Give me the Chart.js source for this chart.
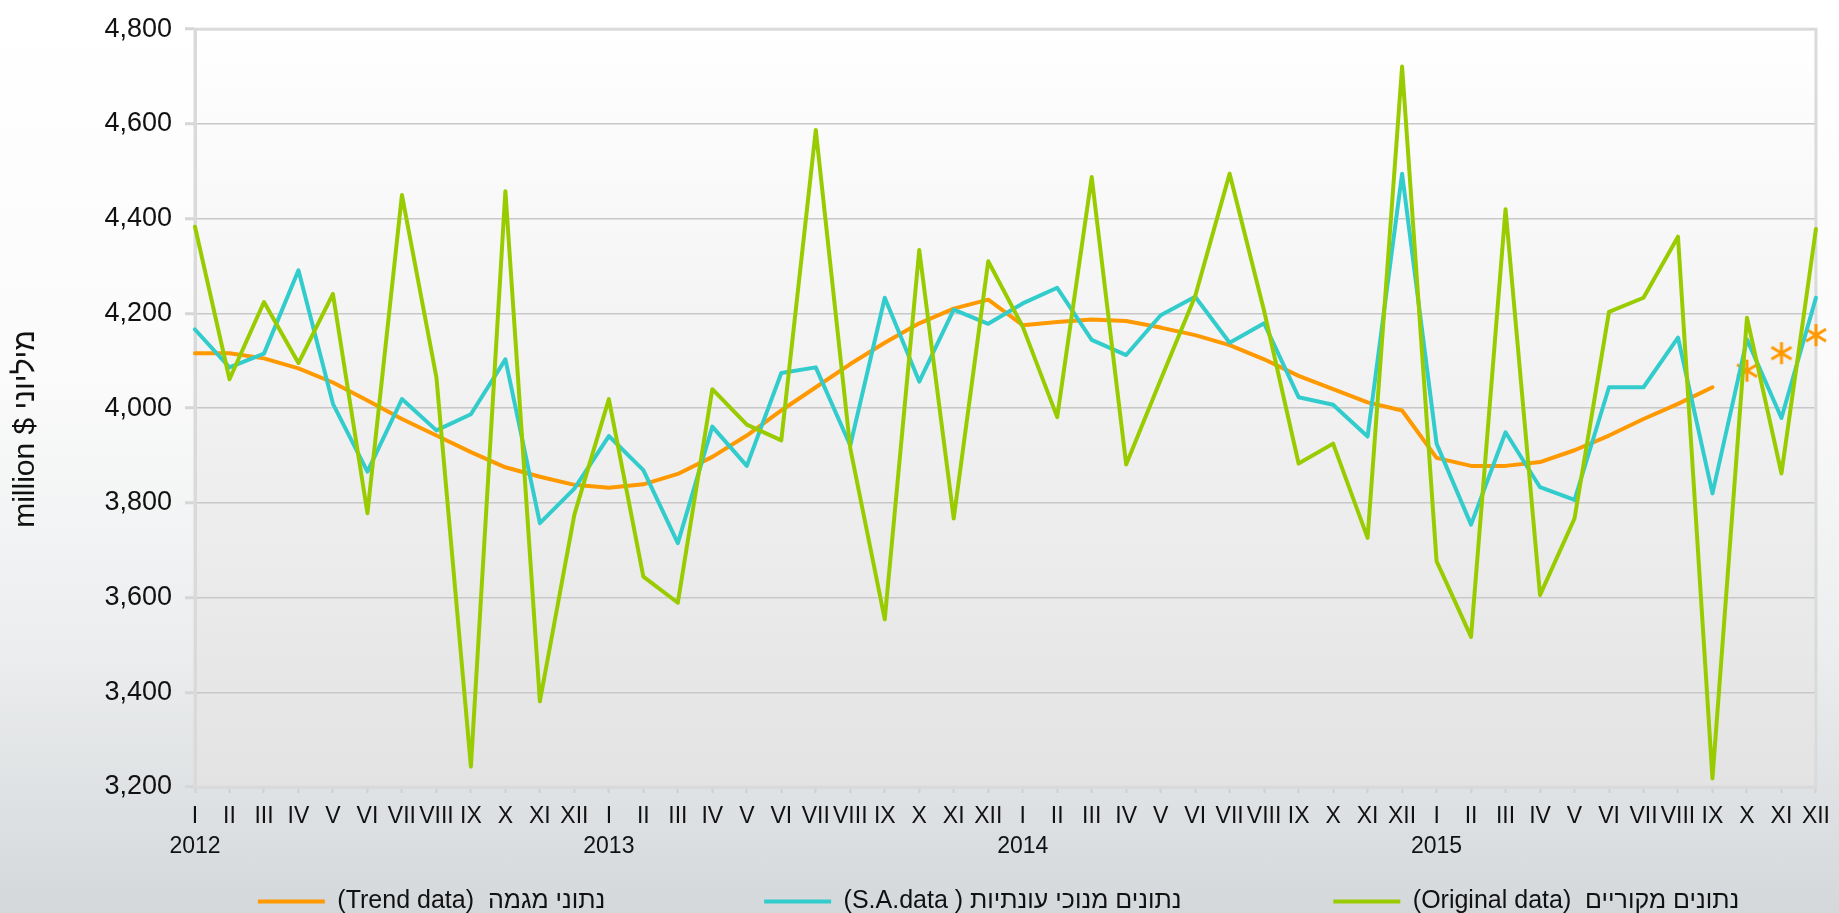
<!DOCTYPE html>
<html>
<head>
<meta charset="utf-8">
<script src="https://cdn.jsdelivr.net/npm/chart.js@4.4.0/dist/chart.umd.min.js"></script>
<style>
  html, body { margin: 0; padding: 0; }
  body {
    width: 1839px; height: 913px; overflow: hidden;
    background: linear-gradient(180deg, #ffffff 0%, #fbfbfb 40%, #eceeef 70%, #d5d8db 100%);
  }
  #wrap { position: relative; width: 1839px; height: 913px; }
</style>
</head>
<body>
<div id="wrap"><canvas id="exports-chart"></canvas></div>
<script>
const years = ['2012', '2013', '2014', '2015'];
const months = ['I', 'II', 'III', 'IV', 'V', 'VI', 'VII', 'VIII', 'IX', 'X', 'XI', 'XII'];
const yTicks = [3200, 3400, 3600, 3800, 4000, 4200, 4400, 4600, 4800];

// original data, Jan 2012 - Dec 2015
const originalData = [
  4383, 4061, 4224, 4095, 4241, 3778, 4450, 4065, 3243, 4458, 3381, 3775,
  4019, 3644, 3589, 4040, 3965, 3932, 4587, 3915, 3554, 4334, 3767, 4310,
  4172, 3981, 4488, 3881, 4060, 4236, 4495, 4205, 3883, 3925, 3726, 4721,
  3677, 3517, 4420, 3605, 3767, 4203, 4233, 4362, 3218, 4191, 3862, 4378
];
// seasonally adjusted
const saData = [
  4166, 4086, 4115, 4291, 4009, 3866, 4019, 3953, 3987, 4103, 3757, 3830,
  3941, 3869, 3715, 3961, 3878, 4074, 4086, 3921, 4233, 4056, 4208, 4178,
  4221, 4254, 4144, 4112, 4196, 4235, 4138, 4179, 4023, 4007, 3940, 4495,
  3925, 3754, 3949, 3833, 3806, 4044, 4044, 4149, 3820, 4145, 3979, 4233
];
// trend, Jan 2012 - Sep 2015
const trendData = [
  4116, 4116, 4105, 4084, 4054, 4016, 3977, 3942, 3907, 3875, 3855, 3838,
  3832, 3839, 3861, 3897, 3942, 3995, 4044, 4093, 4138, 4179, 4210, 4229,
  4175, 4182, 4187, 4184, 4170, 4154, 4133, 4103, 4068, 4040, 4012, 3995,
  3895, 3878, 3878, 3886, 3911, 3942, 3977, 4009, 4044
];
// trend estimates, Oct - Dec 2015 (markers only)
const trendEstimate = [4079, 4116, 4154];

const seriesNames = [
  '(Original data)  נתונים מקוריים',
  '(S.A.data ) נתונים מנוכי עונתיות',
  '(Trend data)  נתוני מגמה'
];
const yTitle = 'million $ מיליוני';

const labels = years.flatMap(y => months.map((m, i) => i === 0 ? [m, y] : m));
const trendLine = trendData.concat(Array(labels.length - trendData.length).fill(null));
const trendMarks = Array(labels.length - trendEstimate.length).fill(null).concat(trendEstimate);

const family = "'Liberation Sans', Arial, sans-serif";
const legendSize = 25;

// asterisk marker like the Excel one: vertical bar + X
function makeAsterisk(color) {
  const c = document.createElement('canvas');
  c.width = 26; c.height = 26;
  const g = c.getContext('2d');
  g.strokeStyle = color;
  g.lineWidth = 3;
  g.beginPath();
  g.moveTo(13, 2); g.lineTo(13, 24);
  g.moveTo(3, 7); g.lineTo(23, 19);
  g.moveTo(3, 19); g.lineTo(23, 7);
  g.stroke();
  return c;
}

// pad legend text with spaces so items sit where they do in the original
const measureCtx = document.createElement('canvas').getContext('2d');
measureCtx.font = `${legendSize}px ${family}`;
function padText(t, w) {
  while (measureCtx.measureText(t).width < w) t += ' ';
  return t;
}
const legendTextWidths = [419, 483, 336];

const plotBox = {
  id: 'plotBox',
  beforeDraw(chart) {
    const {ctx, chartArea: a} = chart;
    const g = ctx.createLinearGradient(0, a.top, 0, a.bottom);
    g.addColorStop(0, '#ffffff');
    g.addColorStop(1, '#e3e3e3');
    ctx.save();
    ctx.fillStyle = g;
    ctx.fillRect(a.left, a.top, a.width, a.height);
    ctx.restore();
  },
  beforeDatasetsDraw(chart) {
    const {ctx, chartArea: a} = chart;
    ctx.save();
    ctx.strokeStyle = '#dadada';
    ctx.lineWidth = 3;
    ctx.strokeRect(a.left, a.top, a.width, a.height);
    ctx.restore();
  }
};

const lineStyle = {
  borderWidth: 4,
  pointRadius: 0,
  tension: 0,
  borderJoinStyle: 'round',
  borderCapStyle: 'round',
  spanGaps: false
};

new Chart(document.getElementById('exports-chart'), {
  type: 'line',
  data: {
    labels: labels,
    datasets: [
      { label: seriesNames[0], data: originalData, borderColor: '#99CC00', backgroundColor: '#99CC00', ...lineStyle },
      { label: seriesNames[1], data: saData, borderColor: '#33CCCC', backgroundColor: '#33CCCC', ...lineStyle },
      { label: seriesNames[2], data: trendLine, borderColor: '#FF9900', backgroundColor: '#FF9900', ...lineStyle },
      {
        label: 'trend estimate', data: trendMarks, showLine: false,
        pointStyle: makeAsterisk('#FF9900'), pointRadius: 11,
        borderColor: '#FF9900', backgroundColor: '#FF9900'
      }
    ]
  },
  options: {
    responsive: true,
    maintainAspectRatio: false,
    animation: false,
    layout: { padding: { top: 25, right: 18, bottom: -11, left: 0 } },
    plugins: {
      tooltip: { enabled: false },
      legend: {
        position: 'bottom',
        fullSize: false,
        labels: {
          usePointStyle: true,
          pointStyle: 'line',
          pointStyleWidth: 67,
          boxHeight: legendSize,
          padding: 6,
          color: '#111',
          font: { size: legendSize, family },
          generateLabels(chart) {
            const items = Chart.defaults.plugins.legend.labels.generateLabels(chart)
              .filter(it => it.datasetIndex !== 3)
              .sort((a, b) => b.datasetIndex - a.datasetIndex);
            items.forEach((it, i) => { it.text = padText(it.text, legendTextWidths[i]); });
            return items;
          }
        }
      }
    },
    scales: {
      x: {
        ticks: {
          autoSkip: false, maxRotation: 0, minRotation: 0,
          color: '#111', padding: 9,
          font: { size: 23, family, lineHeight: 1.3 }
        },
        grid: { drawOnChartArea: false, tickLength: 6, tickColor: '#d0d0d0', tickWidth: 2 },
        border: { color: '#d9d9d9', width: 3 },
        afterFit(s) { s.height = 96; }
      },
      y: {
        min: yTicks[0],
        max: yTicks[yTicks.length - 1],
        afterBuildTicks(s) { s.ticks = yTicks.map(v => ({ value: v })); },
        ticks: {
          color: '#111', padding: 13,
          font: { size: 27, family },
          callback: v => v.toLocaleString('en-US')
        },
        grid: { color: '#c8c8c8', lineWidth: 1.5, tickLength: 10, tickColor: '#d6d6d6', tickWidth: 3 },
        border: { color: '#d9d9d9', width: 3 },
        title: {
          display: true,
          text: yTitle + '     ',
          color: '#111',
          font: { size: 30, family },
          padding: { top: 8, bottom: 0 }
        },
        afterFit(s) { s.width = 195; }
      }
    }
  },
  plugins: [plotBox]
});
</script>
</body>
</html>
